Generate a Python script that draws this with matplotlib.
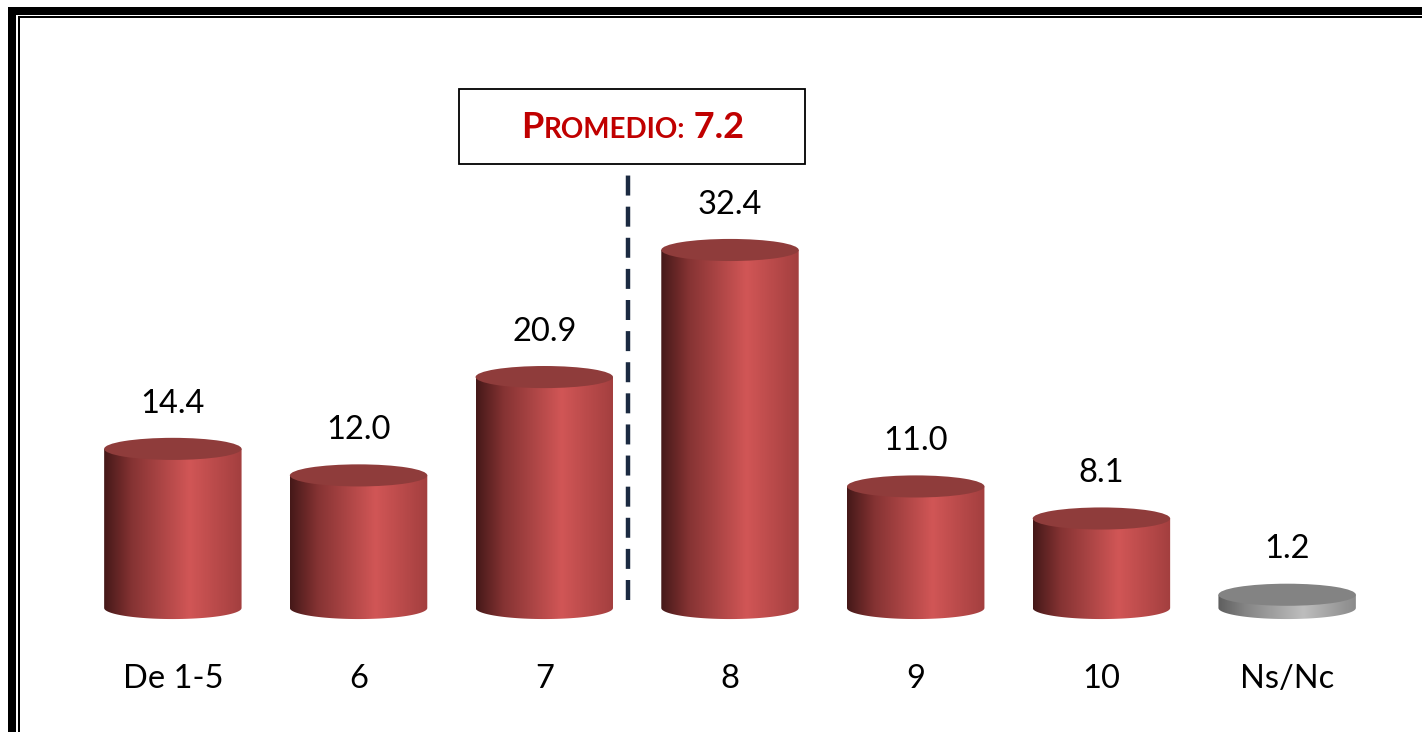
# cylinder bars with average marker

import numpy as np
import matplotlib.pyplot as plt
from matplotlib.patches import Ellipse, Rectangle, PathPatch
from matplotlib.path import Path
from matplotlib.lines import Line2D
from matplotlib.colors import LinearSegmentedColormap
from matplotlib.offsetbox import TextArea, HPacker, AnnotationBbox

plt.rcParams['font.family'] = ['Lato', 'DejaVu Sans']

categories = ['De 1-5', '6', '7', '8', '9', '10', 'Ns/Nc']
values = [14.4, 12.0, 20.9, 32.4, 11.0, 8.1, 1.2]
is_grey = [False, False, False, False, False, False, True]
promedio = '7.2'

fontsize = 23.5
bar_w = 0.74
ell_h = 2.0
promedio_x = 2.45

red_side = LinearSegmentedColormap.from_list(
    'red_side', [(0, '#451818'), (0.2, '#853333'), (0.62, '#d15656'), (1, '#a33f3f')])
grey_side = LinearSegmentedColormap.from_list(
    'grey_side', [(0, '#5e5e5e'), (0.2, '#858585'), (0.62, '#bdbdbd'), (1, '#8a8a8a')])

fig = plt.figure(figsize=(14.22, 7.32), dpi=100)
# y scale: ~11.05 px per unit, baseline at 608 px from top
ax = fig.add_axes([80 / 1422, 90.85 / 732, 1300 / 1422, 475.15 / 732])
ax.set_xlim(-0.5, 6.5)
ax.set_ylim(-3, 40)
ax.axis('off')

grad = np.linspace(0, 1, 256).reshape(1, -1)
t = np.linspace(np.pi, 2 * np.pi, 60)

for i, v in enumerate(values):
    x0, x1 = i - bar_w / 2, i + bar_w / 2
    # side of cylinder: rectangle + lower half of bottom ellipse
    arc = np.column_stack([i + bar_w / 2 * np.cos(t), ell_h / 2 * np.sin(t)])
    verts = np.vstack([[x0, v], arc, [x1, v], [x0, v]])
    codes = [Path.MOVETO] + [Path.LINETO] * (len(verts) - 2) + [Path.CLOSEPOLY]
    clip = PathPatch(Path(verts, codes), facecolor='none', edgecolor='none')
    ax.add_patch(clip)
    cmap = grey_side if is_grey[i] else red_side
    im = ax.imshow(grad, cmap=cmap, extent=[x0, x1, -ell_h, v], aspect='auto',
                   interpolation='bilinear', zorder=2)
    im.set_clip_path(clip)
    top = '#838383' if is_grey[i] else '#8f3c3b'
    ax.add_patch(Ellipse((i, v), bar_w, ell_h, facecolor=top, edgecolor='none', zorder=3))
    ax.text(i, v + 4.1, f'{v:.1f}', ha='center', va='center', fontsize=fontsize,
            color='black', clip_on=False)
    ax.text(i, -6.4, categories[i], ha='center', va='center', fontsize=fontsize,
            color='black', clip_on=False)

# average marker
ax.plot([promedio_x, promedio_x], [0.7, 39.8], color='#1b2a41', lw=3.2,
        dashes=(4.5, 2.5), clip_on=False, zorder=1)
fig.add_artist(Rectangle((459 / 1422, 1 - 164 / 732), 346 / 1422, 75 / 732,
                         transform=fig.transFigure, facecolor='white',
                         edgecolor='black', lw=1.3))
red = '#c00000'
parts = [TextArea('P', textprops=dict(color=red, fontsize=26, fontweight='bold')),
         TextArea('ROMEDIO:', textprops=dict(color=red, fontsize=20, fontweight='bold')),
         TextArea(' ' + promedio, textprops=dict(color=red, fontsize=26, fontweight='bold'))]
pack = HPacker(children=parts, align='baseline', pad=0, sep=0)
fig.add_artist(AnnotationBbox(pack, (633 / 1422, 1 - 127 / 732), xycoords='figure fraction',
                              frameon=False, box_alignment=(0.5, 0.5)))

# page frame: thick outer line and thin inner line
W, H = 1422, 732
def frame_line(x0, y0, x1, y1, lw):
    fig.add_artist(Line2D([x0 / W, x1 / W], [1 - y0 / H, 1 - y1 / H],
                          transform=fig.transFigure, color='black', lw=lw,
                          solid_capstyle='butt'))
frame_line(12, 7, 12, H, 8 * 0.72)
frame_line(8, 11, W, 11, 8 * 0.72)
frame_line(19, 17, 19, H, 2 * 0.72)
frame_line(18, 17, W, 17, 2 * 0.72)

fig.savefig('out.png', dpi=100)
